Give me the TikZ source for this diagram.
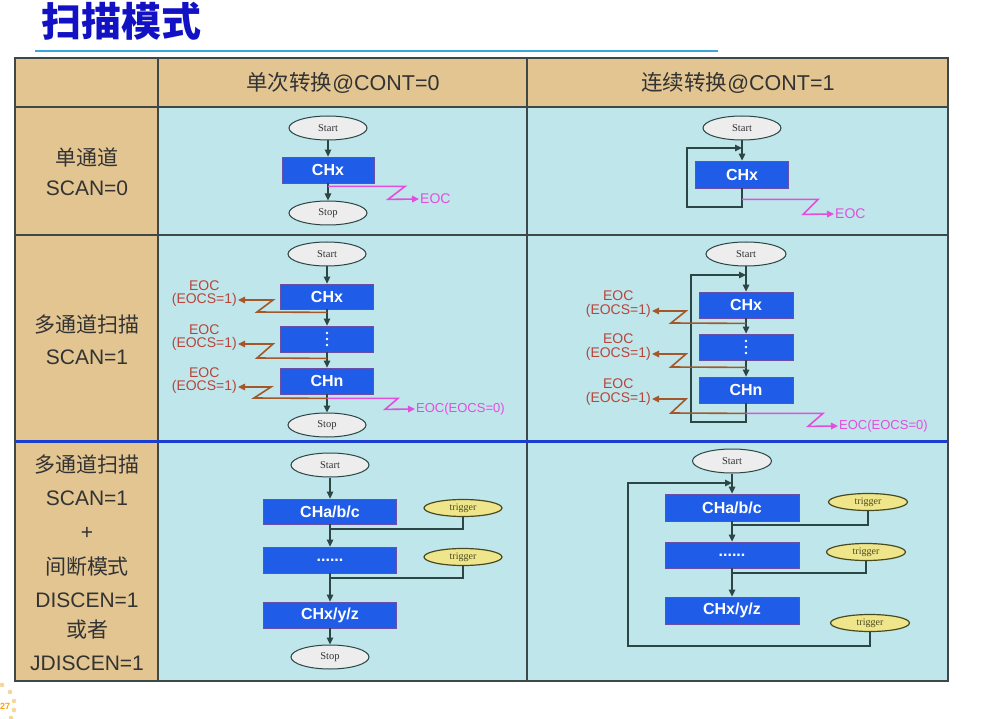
\documentclass[tikz,border=0pt]{standalone}
\usepackage{fontspec}
\setmainfont{Liberation Sans}
\newfontfamily\cjk{Noto Sans CJK SC}
\newfontfamily\serifrm{Liberation Serif}
\usetikzlibrary{shapes.geometric,arrows.meta}
\definecolor{tanbg}{HTML}{E2C591}
\definecolor{cyanbg}{HTML}{BEE6EB}
\definecolor{gridline}{HTML}{3E4848}
\definecolor{boxblue}{HTML}{1F5DE8}
\definecolor{boxedge}{HTML}{6A4FA8}
\definecolor{conn}{HTML}{2C4545}
\definecolor{eocm}{HTML}{E24FDC}
\definecolor{eocb}{HTML}{A4582A}
\definecolor{eoct}{HTML}{B8453A}
\definecolor{titleblue}{HTML}{1212C4}
\definecolor{rulecol}{HTML}{3AA6DC}
\definecolor{trigfill}{HTML}{EFE58A}
\definecolor{trigedge}{HTML}{4A4A20}
\definecolor{ellfill}{HTML}{EDEDED}
\definecolor{labelgray}{HTML}{333333}
\definecolor{sepblue}{HTML}{1A3FD0}
\definecolor{pageorange}{HTML}{F2A31B}
\begin{document}
\begin{tikzpicture}[x=1pt,y=-1pt,
  chbox/.style={draw=boxedge, fill=boxblue, line width=0.8pt, text=white,
    font=\fontsize{16}{18}\selectfont\bfseries, inner sep=0},
  term/.style={ellipse, draw=conn, fill=ellfill, line width=1pt, minimum width=78pt,
    minimum height=24pt, inner sep=0, text=labelgray, font=\serifrm\fontsize{10.5}{12}\selectfont},
  trig/.style={ellipse, draw=trigedge, fill=trigfill, line width=1.2pt, minimum width=78pt,
    minimum height=17pt, inner sep=0, text=trigedge, font=\serifrm\fontsize{10}{11}\selectfont},
  flow/.style={draw=conn, line width=1.3pt, -{Triangle[length=7pt,width=6.5pt]}},
  conline/.style={draw=conn, line width=1.3pt},
  eocmline/.style={draw=eocm, line width=1.6pt, -{Triangle[length=7pt,width=6.5pt]}},
  eocbline/.style={draw=eocb, line width=1.6pt, -{Triangle[length=7pt,width=6.5pt]}},
  eocmtext/.style={text=eocm, inner sep=1pt, font=\fontsize{14}{16}\selectfont},
  eocmtext2/.style={text=eocm, inner sep=1pt, font=\fontsize{13}{15}\selectfont},
  eocbtext/.style={text=eoct, inner sep=1pt, font=\fontsize{14}{16}\selectfont},
  hdr/.style={text=labelgray, inner sep=0, font=\fontsize{21.5}{24}\selectfont},
  lab/.style={text=labelgray, inner sep=0, font=\fontsize{21}{24}\selectfont},
  labc/.style={text=labelgray, inner sep=0, font=\cjk\fontsize{21}{24}\selectfont},
  vdot/.style={fill=white}
]
\useasboundingbox (0,0) rectangle (985,719);
% title
\node[text=titleblue, font=\cjk\bfseries\fontsize{40}{44}\selectfont, inner sep=0] (title) at (121,21) {扫描模式};
\draw[rulecol, line width=2pt] (35,51) -- (718,51);
% table backgrounds
\fill[tanbg] (15,58) rectangle (948,107);
\fill[tanbg] (15,107) rectangle (158,681);
\fill[cyanbg] (158,107) rectangle (948,681);
\draw[gridline, line width=1.4pt] (15,58) rectangle (948,681);
\draw[gridline, line width=1.4pt] (158,58) -- (158,681);
\draw[gridline, line width=1.4pt] (527,58) -- (527,681);
\draw[gridline, line width=1.4pt] (15,107) -- (948,107);
\draw[gridline, line width=1.4pt] (15,235) -- (948,235);
\draw[sepblue, line width=3pt] (15,441) -- (948,441);
% headers
\node[hdr] (h1) at (343,83) {{\cjk 单次转换}@CONT=0};
\node[hdr] (h2) at (738,83) {{\cjk 连续转换}@CONT=1};
% left column labels
\node[labc] (l1a) at (87,157) {单通道};
\node[lab] (l1b) at (87,188) {SCAN=0};
\node[labc] (l2a) at (87,324) {多通道扫描};
\node[lab] (l2b) at (87,357) {SCAN=1};
\node[labc] (l3a) at (87,464) {多通道扫描};
\node[lab] (l3b) at (87,498) {SCAN=1};
\node[lab] (l3c) at (87,533) {+};
\node[labc] (l3d) at (87,567) {间断模式};
\node[lab] (l3e) at (87,600) {DISCEN=1};
\node[labc] (l3f) at (87,630) {或者};
\node[lab] (l3g) at (87,663) {JDISCEN=1};

% ===== row 1, single conversion
\node[term] (aS) at (328,128) {Start};
\node[chbox, minimum width=92pt, minimum height=26pt] (aX) at (328,170) {CHx};
\node[term] (aE) at (328,213) {Stop};
\draw[flow] (aS) -- (aX);
\draw[flow] (aX) -- (aE);
\node[eocmtext, anchor=west] (aT) at (419,199) {EOC};
\draw[eocmline] (aX.south) ++(0,3) -- ++(77,0) -- ++(-17,13) -- (aT.west);

% ===== row 1, continuous conversion
\node[term] (bS) at (742,128) {Start};
\node[chbox, minimum width=93pt, minimum height=27pt] (bX) at (742,174.5) {CHx};
\draw[flow] (bS) -- (bX);
\coordinate (bL1) at (687,207);
\coordinate (bL2) at (687,148);
\draw[flow] (bX.south) -- (bX.south |- bL1) -- (bL1) -- (bL2) -- (bX.north |- bL2);
\node[eocmtext, anchor=west] (bT) at (834,214) {EOC};
\draw[eocmline] (bX.south) ++(0,11) -- ++(76,0) -- ++(-15,15) -- (bT.west);

% ===== row 2, single conversion
\node[term] (cS) at (327,254) {Start};
\node[chbox, minimum width=93pt, minimum height=25pt] (cX) at (327,296.5) {CHx};
\node[chbox, minimum width=93pt, minimum height=26pt] (cD) at (327,339) {};
\foreach \dy in {-6,0,6} { \fill[vdot] (cD.center) ++(0,\dy) circle (1.3); }
\node[chbox, minimum width=93pt, minimum height=26pt] (cN) at (327,381) {CHn};
\node[term] (cE) at (327,425) {Stop};
\draw[flow] (cS) -- (cX);
\draw[flow] (cX) -- (cD);
\draw[flow] (cD) -- (cN);
\draw[flow] (cN) -- (cE);
\node[eocbtext, anchor=east] (c1b) at (238,300) {(EOCS=1)};
\path (c1b.center) ++(0,-14) node[eocbtext] (c1a) {EOC};
\draw[eocbline] (cX.south) ++(0,3) -- (257,312) -- (273,300) -- (c1b.east);
\node[eocbtext, anchor=east] (c2b) at (238,344) {(EOCS=1)};
\path (c2b.center) ++(0,-14) node[eocbtext] (c2a) {EOC};
\draw[eocbline] (cD.south) ++(0,6) -- (257,358) -- (273,344) -- (c2b.east);
\node[eocbtext, anchor=east] (c3b) at (238,387) {(EOCS=1)};
\path (c3b.center) ++(0,-14) node[eocbtext] (c3a) {EOC};
\draw[eocbline] (cN.south) ++(0,4) -- (254,398) -- (271,387) -- (c3b.east);
\node[eocmtext2, anchor=west] (cT) at (415,409) {EOC(EOCS=0)};
\draw[eocmline] (cN.south) ++(0,4) -- ++(71,0) -- ++(-13,11) -- (cT.west);

% ===== row 2, continuous conversion
\node[term, minimum width=80pt] (dS) at (746,254) {Start};
\node[chbox, minimum width=94pt, minimum height=26pt] (dX) at (746,305) {CHx};
\node[chbox, minimum width=94pt, minimum height=26pt] (dD) at (746,347) {};
\foreach \dy in {-6,0,6} { \fill[vdot] (dD.center) ++(0,\dy) circle (1.3); }
\node[chbox, minimum width=94pt, minimum height=26pt] (dN) at (746,390) {CHn};
\draw[flow] (dS) -- (dX);
\draw[flow] (dX) -- (dD);
\draw[flow] (dD) -- (dN);
\coordinate (dL1) at (691,422);
\coordinate (dL2) at (691,275);
\draw[flow] (dN.south) -- (dN.south |- dL1) -- (dL1) -- (dL2) -- (dX.north |- dL2);
\node[eocbtext, anchor=east] (d1b) at (652,311) {(EOCS=1)};
\path (d1b.center) ++(0,-15) node[eocbtext] (d1a) {EOC};
\draw[eocbline] (dX.south) ++(0,5) -- (671,323) -- (686,311) -- (d1b.east);
\node[eocbtext, anchor=east] (d2b) at (652,354) {(EOCS=1)};
\path (d2b.center) ++(0,-15) node[eocbtext] (d2a) {EOC};
\draw[eocbline] (dD.south) ++(0,7) -- (671,367) -- (686,354) -- (d2b.east);
\node[eocbtext, anchor=east] (d3b) at (652,399) {(EOCS=1)};
\path (d3b.center) ++(0,-15) node[eocbtext] (d3a) {EOC};
\draw[eocbline] (dN.south) ++(0,10) -- (671,413) -- (686,399) -- (d3b.east);
\node[eocmtext2, anchor=west] (dT) at (838,426) {EOC(EOCS=0)};
\draw[eocmline] (dN.south) ++(0,10) -- ++(77,0) -- ++(-15,13) -- (dT.west);

% ===== row 3, single conversion (discontinuous)
\node[term] (eS) at (330,465) {Start};
\node[chbox, minimum width=133pt, minimum height=25pt] (eA) at (330,511.5) {CHa/b/c};
\node[chbox, minimum width=133pt, minimum height=26pt] (eD) at (330,560) {......};
\node[chbox, minimum width=133pt, minimum height=26pt] (eZ) at (330,615) {CHx/y/z};
\node[term] (eE) at (330,657) {Stop};
\node[trig] (eT1) at (463,508) {trigger};
\node[trig] (eT2) at (463,557) {trigger};
\coordinate (eJ1) at (330,529);
\coordinate (eJ2) at (330,578);
\draw[flow] (eS) -- (eA);
\draw[conline] (eT1.south) |- (eJ1);
\draw[flow] (eA) -- (eD);
\draw[conline] (eT2.south) |- (eJ2);
\draw[flow] (eD) -- (eZ);
\draw[flow] (eZ) -- (eE);

% ===== row 3, continuous conversion (discontinuous)
\node[term, minimum width=79pt] (fS) at (732,461) {Start};
\node[chbox, minimum width=134pt, minimum height=27pt] (fA) at (732,507.5) {CHa/b/c};
\node[chbox, minimum width=134pt, minimum height=26pt] (fD) at (732,555) {......};
\node[chbox, minimum width=134pt, minimum height=27pt] (fZ) at (732,610.5) {CHx/y/z};
\node[trig, minimum width=79pt] (fT1) at (868,502) {trigger};
\node[trig, minimum width=79pt] (fT2) at (866,552) {trigger};
\node[trig, minimum width=79pt] (fT3) at (870,623) {trigger};
\coordinate (fJ1) at (732,525);
\coordinate (fJ2) at (732,573);
\coordinate (fL1) at (628,646);
\coordinate (fL2) at (628,483);
\draw[flow] (fS) -- (fA);
\draw[conline] (fT1.south) |- (fJ1);
\draw[flow] (fA) -- (fD);
\draw[conline] (fT2.south) |- (fJ2);
\draw[flow] (fD) -- (fZ);
\draw[flow] (fT3.south) |- (fL1) -- (fL2) -- (fA.north |- fL2);

% footer
\foreach \px/\py in {2/685, 10/692, 14/701, 14/710, 11/718} {
  \fill[pageorange!45] (\px,\py) circle (2.3);
}
\node[text=pageorange, font=\bfseries\fontsize{9}{10}\selectfont, inner sep=0, anchor=west] (pg) at (0,706) {27};
\end{tikzpicture}
\end{document}
